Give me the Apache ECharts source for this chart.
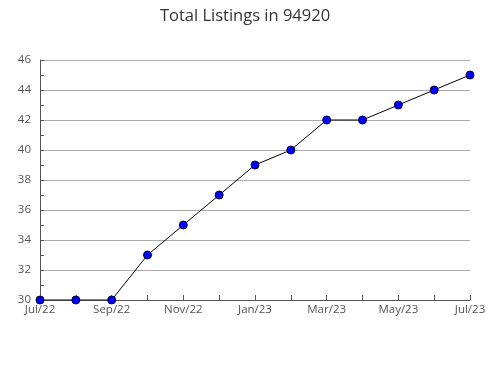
<!DOCTYPE html>
<html><head><meta charset="utf-8">
<script src="https://cdn.jsdelivr.net/npm/echarts@6/dist/echarts.min.js"></script>
<style>html,body{margin:0;padding:0;background:#fff}#c{width:490px;height:380px}</style>
</head><body><div id="c"></div>
<script>
var categories = ['Jul/22','Aug/22','Sep/22','Oct/22','Nov/22','Dec/22','Jan/23','Feb/23','Mar/23','Apr/23','May/23','Jun/23','Jul/23'];
var listings = [30,30,30,33,35,37,39,40,42,42,43,44,45];
var chart = echarts.init(document.getElementById('c'));
chart.setOption({
  animation: false,
  title: {text: 'Total Listings in 94920', left: 'center', top: 3,
    textStyle: {fontFamily: 'Open Sans', fontSize: 16.5, fontWeight: 'normal', color: '#333'}},
  grid: {left: 40, right: 20, top: 60, bottom: 80},
  xAxis: {type: 'category', data: categories, boundaryGap: false,
    axisLine: {lineStyle: {color: '#555', width: 1}},
    axisTick: {inside: true, length: 5, interval: 0, lineStyle: {color: '#555'}},
    axisLabel: {interval: 1, fontFamily: 'Open Sans', fontSize: 11.5, color: '#555', margin: 4},
    splitLine: {show: false}},
  yAxis: {type: 'value', min: 30, max: 46, interval: 2,
    axisLine: {show: true, lineStyle: {color: '#555', width: 1}},
    axisTick: {show: true, inside: true, length: 4, lineStyle: {color: '#555'}},
    minorTick: {show: true, splitNumber: 2, length: 4, lineStyle: {color: '#555'}},
    axisLabel: {fontFamily: 'Open Sans', fontSize: 11.5, color: '#555', margin: 9},
    splitLine: {lineStyle: {color: '#aaa', width: 1}}},
  series: [{type: 'line', data: listings, symbol: 'circle', symbolSize: 8,
    lineStyle: {color: '#000', width: 1},
    itemStyle: {color: '#0000ff', borderColor: '#000033', borderWidth: 1}}]
});
</script></body></html>
